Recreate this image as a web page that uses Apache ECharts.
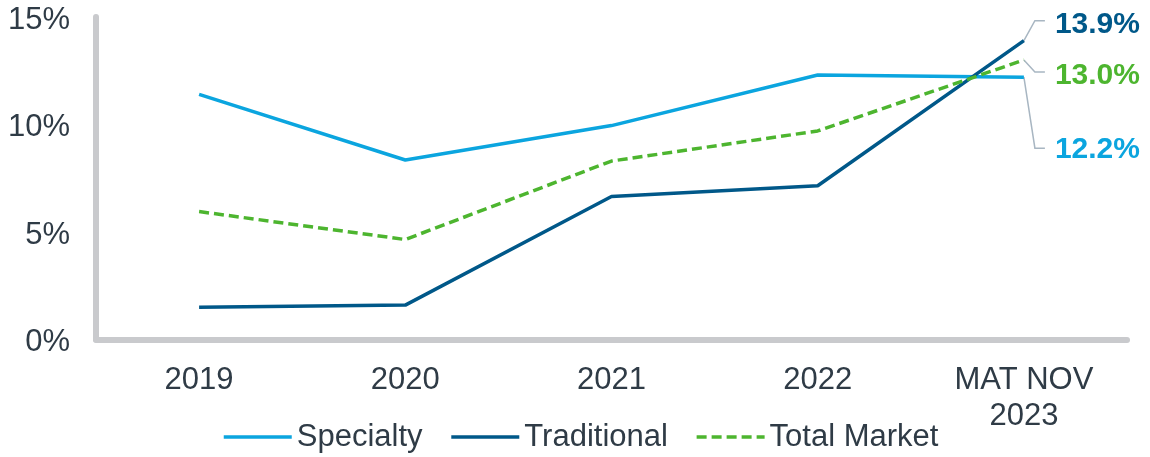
<!DOCTYPE html>
<html>
<head>
<meta charset="utf-8">
<script src="https://cdn.jsdelivr.net/npm/echarts@6/dist/echarts.min.js"></script>
<style>
  html, body { margin: 0; padding: 0; background: #ffffff; }
  #chart { width: 1150px; height: 457px; }
</style>
</head>
<body>
<div id="chart"></div>
<script>
// Growth rates by channel, percent
const categories = ['2019', '2020', '2021', '2022', 'MAT NOV\n2023'];
const specialty = [11.4, 8.35, 9.95, 12.3, 12.2];
const traditional = [1.5, 1.6, 6.65, 7.15, 13.9];
const totalMarket = [5.95, 4.65, 8.3, 9.7, 13.0];
const yTicks = [0, 5, 10, 15];

const FONT = '"Liberation Sans", Arial, sans-serif';
const TEXT = '#2f3b46';
const GUIDE = '#a8b6c2';

// end-label placement: [dx, label dy, guide elbow dy]
const endLabelPlace = {
  Specialty: [31, 73, 71],
  Traditional: [31, -16, -20],
  'Total Market': [31, 16, 12]
};

function lineSeries(name, data, color, dashed) {
  const p = endLabelPlace[name];
  return {
    name: name,
    type: 'line',
    data: data,
    symbol: 'none',
    lineStyle: { color: color, width: 3.5, type: dashed ? [10, 5] : 'solid' },
    itemStyle: { color: color },
    endLabel: {
      show: true,
      formatter: (v) => Number(v.value).toFixed(1) + '%',
      offset: [p[0], p[1]],
      distance: 0,
      align: 'left',
      verticalAlign: 'middle',
      color: color,
      fontFamily: FONT,
      fontWeight: 'bold',
      fontSize: 30
    }
  };
}

const chart = echarts.init(document.getElementById('chart'), null, { renderer: 'canvas' });

chart.setOption({
  animation: false,
  grid: { left: 96, right: 23, top: 17, bottom: 117.5, containLabel: false },
  legend: {
    left: 222,
    top: 421,
    padding: 0,
    itemWidth: 68,
    itemHeight: 14,
    itemGap: 27,
    itemStyle: { opacity: 0 },
    lineStyle: { width: 3.5 },
    textStyle: { fontFamily: FONT, fontSize: 31, color: TEXT, lineHeight: 32 },
    data: ['Specialty', 'Traditional', 'Total Market']
  },
  xAxis: {
    type: 'category',
    data: categories,
    boundaryGap: true,
    axisLine: { show: true, lineStyle: { color: '#c9cacd', width: 6, cap: 'round' } },
    axisTick: { show: false },
    axisLabel: {
      fontFamily: FONT, fontSize: 31, color: TEXT, lineHeight: 36, margin: 23, interval: 0
    },
    splitLine: { show: false }
  },
  yAxis: {
    type: 'value',
    min: yTicks[0],
    max: yTicks[yTicks.length - 1],
    interval: yTicks[1] - yTicks[0],
    axisLine: { show: true, lineStyle: { color: '#c9cacd', width: 6, cap: 'round' } },
    axisTick: { show: false },
    splitLine: { show: false },
    axisLabel: {
      fontFamily: FONT, fontSize: 31, color: TEXT, margin: 26,
      formatter: (v) => '{p|' + v + '%}',
      rich: { p: { fontFamily: FONT, fontSize: 31, color: TEXT, padding: [6, 0, 0, 0] } }
    }
  },
  series: [
    lineSeries('Specialty', specialty, '#0ba5df', false),
    lineSeries('Traditional', traditional, '#005889', false),
    lineSeries('Total Market', totalMarket, '#4db52f', true)
  ]
});

// guide lines from each series' last point to its end label
const seriesList = [['Specialty', specialty], ['Traditional', traditional], ['Total Market', totalMarket]];
const guides = seriesList.map(([name, data], i) => {
  const last = data.length - 1;
  const pt = chart.convertToPixel({ seriesIndex: i }, [last, data[last]]);
  const elbowY = pt[1] + endLabelPlace[name][2];
  return {
    type: 'polyline',
    silent: true,
    z: 1,
    shape: { points: [[pt[0], pt[1]], [pt[0] + 11, elbowY], [pt[0] + 21, elbowY]] },
    style: { stroke: GUIDE, lineWidth: 1.5, fill: null }
  };
});
chart.setOption({ graphic: guides });
</script>
</body>
</html>
